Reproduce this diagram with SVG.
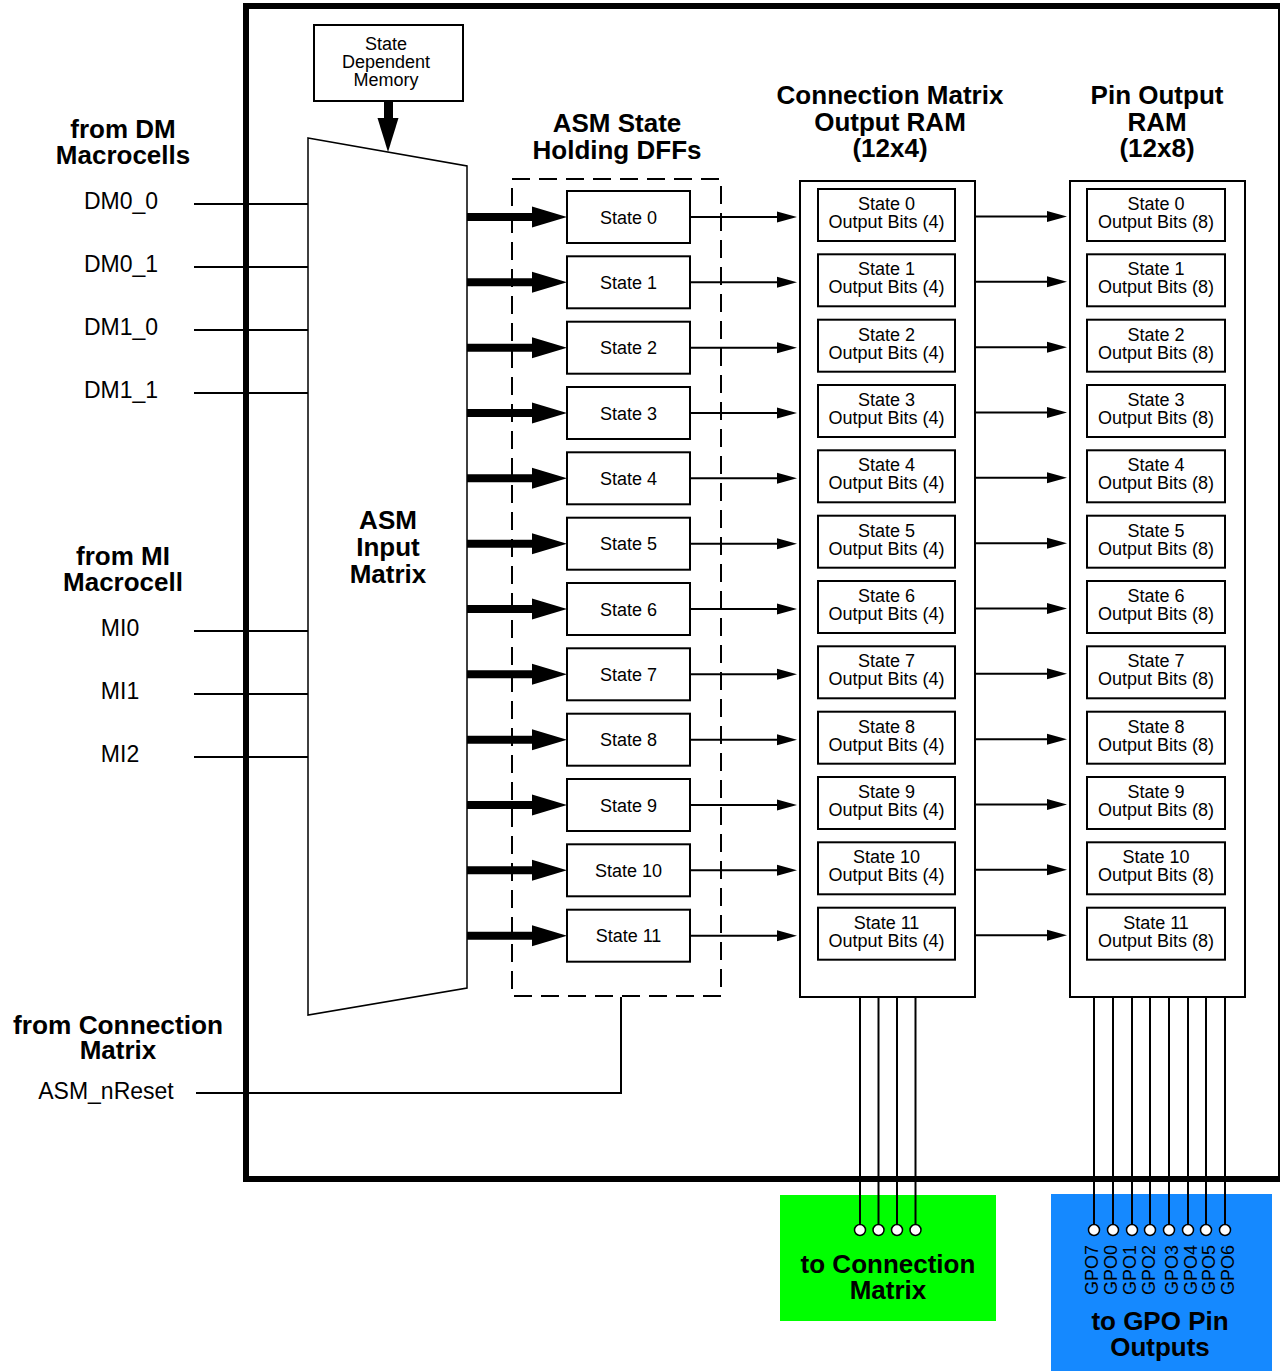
<svg xmlns="http://www.w3.org/2000/svg" width="1280" height="1371" viewBox="0 0 1280 1371">
<style>
text{font-family:"Liberation Sans",Arial,sans-serif;fill:#000}
.t{font-size:18px;text-anchor:middle}
.b{font-size:26px;font-weight:bold;text-anchor:middle}
.l{font-size:23px;text-anchor:middle}
.g{font-size:18px}
.box{fill:#fff;stroke:#000;stroke-width:2}
.w{stroke:#000;stroke-width:2;fill:none}
.pin{fill:#fff;stroke:#000;stroke-width:1.5}
</style>
<defs>
<g id="thick"><line x1="467" y1="0" x2="536" y2="0" stroke="#000" stroke-width="8"/><polygon points="532,-10.5 567,0 532,10.5" fill="#000"/></g>
<g id="thin1"><line x1="690" y1="0" x2="780" y2="0" stroke="#000" stroke-width="2"/><polygon points="777,-5.5 797,0 777,5.5" fill="#000"/></g>
<g id="thin2"><line x1="975" y1="0" x2="1050" y2="0" stroke="#000" stroke-width="2"/><polygon points="1047,-5.5 1067,0 1047,5.5" fill="#000"/></g>
</defs>
<rect width="1280" height="1371" fill="#fff"/>

<g id="outer-block">
<rect x="246" y="6" width="1035" height="1173" fill="none" stroke="#000" stroke-width="6"/>
</g>

<g id="to-connection-matrix">
<rect x="780" y="1195" width="216" height="126" fill="#00ff00"/>
<text class="b" x="888" y="1273">to Connection</text>
<text class="b" x="888" y="1299">Matrix</text>
</g>
<g id="to-gpo">
<rect x="1051" y="1194" width="221" height="177" fill="#1589ff"/>
<text class="b" x="1160" y="1330">to GPO Pin</text>
<text class="b" x="1160" y="1356">Outputs</text>
<text class="g" transform="translate(1098,1295) rotate(-90)">GPO7</text>
<text class="g" transform="translate(1117,1295) rotate(-90)">GPO0</text>
<text class="g" transform="translate(1136,1295) rotate(-90)">GPO1</text>
<text class="g" transform="translate(1155,1295) rotate(-90)">GPO2</text>
<text class="g" transform="translate(1178,1295) rotate(-90)">GPO3</text>
<text class="g" transform="translate(1197,1295) rotate(-90)">GPO4</text>
<text class="g" transform="translate(1215,1295) rotate(-90)">GPO5</text>
<text class="g" transform="translate(1234,1295) rotate(-90)">GPO6</text>
</g>

<g id="labels">
<text class="b" x="123" y="138">from DM</text>
<text class="b" x="123" y="164">Macrocells</text>
<text class="l" x="121" y="209">DM0_0</text>
<text class="l" x="121" y="272">DM0_1</text>
<text class="l" x="121" y="335">DM1_0</text>
<text class="l" x="121" y="398">DM1_1</text>
<text class="b" x="123" y="565">from MI</text>
<text class="b" x="123" y="591">Macrocell</text>
<text class="l" x="120" y="636">MI0</text>
<text class="l" x="120" y="699">MI1</text>
<text class="l" x="120" y="762">MI2</text>
<text class="b" x="118" y="1034" textLength="210" lengthAdjust="spacingAndGlyphs">from Connection</text>
<text class="b" x="118" y="1059">Matrix</text>
<text class="l" x="106" y="1099">ASM_nReset</text>
<text class="b" x="617" y="132">ASM State</text>
<text class="b" x="617" y="159">Holding DFFs</text>
<text class="b" x="890" y="104">Connection Matrix</text>
<text class="b" x="890" y="131">Output RAM</text>
<text class="b" x="890" y="157">(12x4)</text>
<text class="b" x="1157" y="104">Pin Output</text>
<text class="b" x="1157" y="131">RAM</text>
<text class="b" x="1157" y="157">(12x8)</text>
</g>

<g id="connectors">
<line class="w" x1="194" y1="204" x2="308" y2="204"/>
<line class="w" x1="194" y1="267" x2="308" y2="267"/>
<line class="w" x1="194" y1="330" x2="308" y2="330"/>
<line class="w" x1="194" y1="393" x2="308" y2="393"/>
<line class="w" x1="194" y1="631" x2="308" y2="631"/>
<line class="w" x1="194" y1="694" x2="308" y2="694"/>
<line class="w" x1="194" y1="757" x2="308" y2="757"/>
<polyline class="w" points="196,1093 621,1093 621,997"/>
<rect x="384" y="101" width="9" height="19" fill="#000"/>
<polygon points="377.5,118 398.5,118 388,152" fill="#000"/>
<use href="#thick" y="217"/><use href="#thick" y="282.3"/><use href="#thick" y="347.7"/><use href="#thick" y="413"/>
<use href="#thick" y="478.3"/><use href="#thick" y="543.7"/><use href="#thick" y="609"/><use href="#thick" y="674.3"/>
<use href="#thick" y="739.7"/><use href="#thick" y="805"/><use href="#thick" y="870.3"/><use href="#thick" y="935.7"/>
<use href="#thin1" y="217"/><use href="#thin1" y="282.3"/><use href="#thin1" y="347.7"/><use href="#thin1" y="413"/>
<use href="#thin1" y="478.3"/><use href="#thin1" y="543.7"/><use href="#thin1" y="609"/><use href="#thin1" y="674.3"/>
<use href="#thin1" y="739.7"/><use href="#thin1" y="805"/><use href="#thin1" y="870.3"/><use href="#thin1" y="935.7"/>
<use href="#thin2" y="216.5"/><use href="#thin2" y="281.8"/><use href="#thin2" y="347.2"/><use href="#thin2" y="412.5"/>
<use href="#thin2" y="477.8"/><use href="#thin2" y="543.2"/><use href="#thin2" y="608.5"/><use href="#thin2" y="673.8"/>
<use href="#thin2" y="739.2"/><use href="#thin2" y="804.5"/><use href="#thin2" y="869.8"/><use href="#thin2" y="935.2"/>
<line class="w" x1="860" y1="997" x2="860" y2="1225"/>
<line class="w" x1="878.5" y1="997" x2="878.5" y2="1225"/>
<line class="w" x1="897" y1="997" x2="897" y2="1225"/>
<line class="w" x1="915.5" y1="997" x2="915.5" y2="1225"/>
<line class="w" x1="1094" y1="997" x2="1094" y2="1225"/>
<line class="w" x1="1113" y1="997" x2="1113" y2="1225"/>
<line class="w" x1="1132" y1="997" x2="1132" y2="1225"/>
<line class="w" x1="1150" y1="997" x2="1150" y2="1225"/>
<line class="w" x1="1169" y1="997" x2="1169" y2="1225"/>
<line class="w" x1="1188" y1="997" x2="1188" y2="1225"/>
<line class="w" x1="1206" y1="997" x2="1206" y2="1225"/>
<line class="w" x1="1225" y1="997" x2="1225" y2="1225"/>
<circle class="pin" cx="860" cy="1230" r="5.5"/><circle class="pin" cx="878.5" cy="1230" r="5.5"/>
<circle class="pin" cx="897" cy="1230" r="5.5"/><circle class="pin" cx="915.5" cy="1230" r="5.5"/>
<circle class="pin" cx="1094" cy="1230" r="5.5"/><circle class="pin" cx="1113" cy="1230" r="5.5"/>
<circle class="pin" cx="1132" cy="1230" r="5.5"/><circle class="pin" cx="1150" cy="1230" r="5.5"/>
<circle class="pin" cx="1169" cy="1230" r="5.5"/><circle class="pin" cx="1188" cy="1230" r="5.5"/>
<circle class="pin" cx="1206" cy="1230" r="5.5"/><circle class="pin" cx="1225" cy="1230" r="5.5"/>
</g>

<g id="state-dependent-memory">
<rect class="box" x="314" y="25" width="149" height="76"/>
<text class="t" x="386" y="50">State</text>
<text class="t" x="386" y="68">Dependent</text>
<text class="t" x="386" y="86">Memory</text>
</g>

<g id="asm-input-matrix">
<polygon points="308,138 467,166 467,988 308,1015" fill="#fff" stroke="#000" stroke-width="1.5"/>
<text class="b" x="388" y="529">ASM</text>
<text class="b" x="388" y="556">Input</text>
<text class="b" x="388" y="583">Matrix</text>
</g>

<g id="asm-state-dffs">
<rect x="512" y="179" width="209" height="817" fill="none" stroke="#000" stroke-width="2" stroke-dasharray="18 9"/>
</g>
<g id="dff0"><rect class="box" x="567" y="191" width="123" height="52"/><text class="t" x="628.5" y="223.5">State 0</text></g>
<g id="dff1" transform="translate(0,65.3)"><rect class="box" x="567" y="191" width="123" height="52"/><text class="t" x="628.5" y="223.5">State 1</text></g>
<g id="dff2" transform="translate(0,130.7)"><rect class="box" x="567" y="191" width="123" height="52"/><text class="t" x="628.5" y="223.5">State 2</text></g>
<g id="dff3" transform="translate(0,196)"><rect class="box" x="567" y="191" width="123" height="52"/><text class="t" x="628.5" y="223.5">State 3</text></g>
<g id="dff4" transform="translate(0,261.3)"><rect class="box" x="567" y="191" width="123" height="52"/><text class="t" x="628.5" y="223.5">State 4</text></g>
<g id="dff5" transform="translate(0,326.7)"><rect class="box" x="567" y="191" width="123" height="52"/><text class="t" x="628.5" y="223.5">State 5</text></g>
<g id="dff6" transform="translate(0,392)"><rect class="box" x="567" y="191" width="123" height="52"/><text class="t" x="628.5" y="223.5">State 6</text></g>
<g id="dff7" transform="translate(0,457.3)"><rect class="box" x="567" y="191" width="123" height="52"/><text class="t" x="628.5" y="223.5">State 7</text></g>
<g id="dff8" transform="translate(0,522.7)"><rect class="box" x="567" y="191" width="123" height="52"/><text class="t" x="628.5" y="223.5">State 8</text></g>
<g id="dff9" transform="translate(0,588)"><rect class="box" x="567" y="191" width="123" height="52"/><text class="t" x="628.5" y="223.5">State 9</text></g>
<g id="dff10" transform="translate(0,653.3)"><rect class="box" x="567" y="191" width="123" height="52"/><text class="t" x="628.5" y="223.5">State 10</text></g>
<g id="dff11" transform="translate(0,718.7)"><rect class="box" x="567" y="191" width="123" height="52"/><text class="t" x="628.5" y="223.5">State 11</text></g>

<g id="cm-ram"><rect class="box" x="800" y="181" width="175" height="816"/></g>
<g id="cm0"><rect class="box" x="818" y="189" width="137" height="52"/><text class="t" x="886.5" y="210">State 0</text><text class="t" x="886.5" y="228">Output Bits (4)</text></g>
<g id="cm1" transform="translate(0,65.3)"><rect class="box" x="818" y="189" width="137" height="52"/><text class="t" x="886.5" y="210">State 1</text><text class="t" x="886.5" y="228">Output Bits (4)</text></g>
<g id="cm2" transform="translate(0,130.7)"><rect class="box" x="818" y="189" width="137" height="52"/><text class="t" x="886.5" y="210">State 2</text><text class="t" x="886.5" y="228">Output Bits (4)</text></g>
<g id="cm3" transform="translate(0,196)"><rect class="box" x="818" y="189" width="137" height="52"/><text class="t" x="886.5" y="210">State 3</text><text class="t" x="886.5" y="228">Output Bits (4)</text></g>
<g id="cm4" transform="translate(0,261.3)"><rect class="box" x="818" y="189" width="137" height="52"/><text class="t" x="886.5" y="210">State 4</text><text class="t" x="886.5" y="228">Output Bits (4)</text></g>
<g id="cm5" transform="translate(0,326.7)"><rect class="box" x="818" y="189" width="137" height="52"/><text class="t" x="886.5" y="210">State 5</text><text class="t" x="886.5" y="228">Output Bits (4)</text></g>
<g id="cm6" transform="translate(0,392)"><rect class="box" x="818" y="189" width="137" height="52"/><text class="t" x="886.5" y="210">State 6</text><text class="t" x="886.5" y="228">Output Bits (4)</text></g>
<g id="cm7" transform="translate(0,457.3)"><rect class="box" x="818" y="189" width="137" height="52"/><text class="t" x="886.5" y="210">State 7</text><text class="t" x="886.5" y="228">Output Bits (4)</text></g>
<g id="cm8" transform="translate(0,522.7)"><rect class="box" x="818" y="189" width="137" height="52"/><text class="t" x="886.5" y="210">State 8</text><text class="t" x="886.5" y="228">Output Bits (4)</text></g>
<g id="cm9" transform="translate(0,588)"><rect class="box" x="818" y="189" width="137" height="52"/><text class="t" x="886.5" y="210">State 9</text><text class="t" x="886.5" y="228">Output Bits (4)</text></g>
<g id="cm10" transform="translate(0,653.3)"><rect class="box" x="818" y="189" width="137" height="52"/><text class="t" x="886.5" y="210">State 10</text><text class="t" x="886.5" y="228">Output Bits (4)</text></g>
<g id="cm11" transform="translate(0,718.7)"><rect class="box" x="818" y="189" width="137" height="52"/><text class="t" x="886.5" y="210">State 11</text><text class="t" x="886.5" y="228">Output Bits (4)</text></g>

<g id="pin-ram"><rect class="box" x="1070" y="181" width="175" height="816"/></g>
<g id="po0"><rect class="box" x="1087" y="189" width="138" height="52"/><text class="t" x="1156" y="210">State 0</text><text class="t" x="1156" y="228">Output Bits (8)</text></g>
<g id="po1" transform="translate(0,65.3)"><rect class="box" x="1087" y="189" width="138" height="52"/><text class="t" x="1156" y="210">State 1</text><text class="t" x="1156" y="228">Output Bits (8)</text></g>
<g id="po2" transform="translate(0,130.7)"><rect class="box" x="1087" y="189" width="138" height="52"/><text class="t" x="1156" y="210">State 2</text><text class="t" x="1156" y="228">Output Bits (8)</text></g>
<g id="po3" transform="translate(0,196)"><rect class="box" x="1087" y="189" width="138" height="52"/><text class="t" x="1156" y="210">State 3</text><text class="t" x="1156" y="228">Output Bits (8)</text></g>
<g id="po4" transform="translate(0,261.3)"><rect class="box" x="1087" y="189" width="138" height="52"/><text class="t" x="1156" y="210">State 4</text><text class="t" x="1156" y="228">Output Bits (8)</text></g>
<g id="po5" transform="translate(0,326.7)"><rect class="box" x="1087" y="189" width="138" height="52"/><text class="t" x="1156" y="210">State 5</text><text class="t" x="1156" y="228">Output Bits (8)</text></g>
<g id="po6" transform="translate(0,392)"><rect class="box" x="1087" y="189" width="138" height="52"/><text class="t" x="1156" y="210">State 6</text><text class="t" x="1156" y="228">Output Bits (8)</text></g>
<g id="po7" transform="translate(0,457.3)"><rect class="box" x="1087" y="189" width="138" height="52"/><text class="t" x="1156" y="210">State 7</text><text class="t" x="1156" y="228">Output Bits (8)</text></g>
<g id="po8" transform="translate(0,522.7)"><rect class="box" x="1087" y="189" width="138" height="52"/><text class="t" x="1156" y="210">State 8</text><text class="t" x="1156" y="228">Output Bits (8)</text></g>
<g id="po9" transform="translate(0,588)"><rect class="box" x="1087" y="189" width="138" height="52"/><text class="t" x="1156" y="210">State 9</text><text class="t" x="1156" y="228">Output Bits (8)</text></g>
<g id="po10" transform="translate(0,653.3)"><rect class="box" x="1087" y="189" width="138" height="52"/><text class="t" x="1156" y="210">State 10</text><text class="t" x="1156" y="228">Output Bits (8)</text></g>
<g id="po11" transform="translate(0,718.7)"><rect class="box" x="1087" y="189" width="138" height="52"/><text class="t" x="1156" y="210">State 11</text><text class="t" x="1156" y="228">Output Bits (8)</text></g>
</svg>
